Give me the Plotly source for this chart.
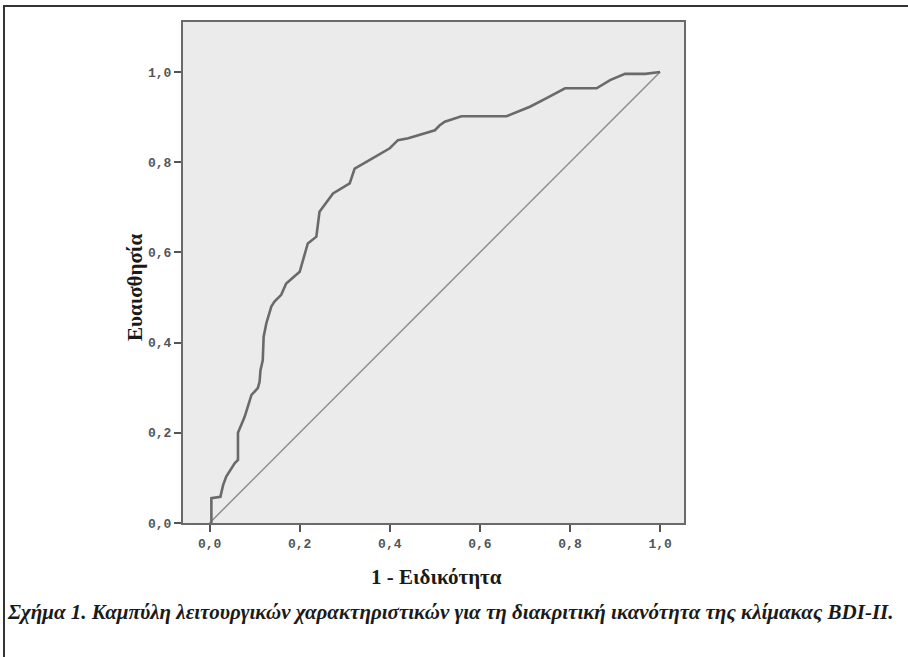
import plotly.graph_objects as go

# ROC curve points (1 - specificity, sensitivity)
fpr = [0.004, 0.004, 0.024, 0.030, 0.037, 0.056, 0.063, 0.063, 0.070, 0.078,
       0.093, 0.107, 0.111, 0.113, 0.118, 0.120, 0.126, 0.137, 0.144, 0.159,
       0.170, 0.200, 0.218, 0.237, 0.244, 0.274, 0.311, 0.322, 0.348, 0.382,
       0.400, 0.418, 0.441, 0.500, 0.511, 0.522, 0.559, 0.659, 0.711, 0.748,
       0.789, 0.859, 0.889, 0.922, 0.967, 1.000]
tpr = [0.000, 0.055, 0.058, 0.084, 0.103, 0.133, 0.140, 0.200, 0.217, 0.236,
       0.284, 0.299, 0.313, 0.339, 0.361, 0.413, 0.443, 0.480, 0.491, 0.506,
       0.531, 0.557, 0.620, 0.635, 0.690, 0.731, 0.753, 0.786, 0.801, 0.820,
       0.831, 0.849, 0.853, 0.871, 0.882, 0.890, 0.902, 0.902, 0.923, 0.942,
       0.964, 0.964, 0.982, 0.996, 0.996, 1.000]
diag_x = [0.0, 1.0]
diag_y = [0.0, 1.0]

tick_vals = [0.0, 0.2, 0.4, 0.6, 0.8, 1.0]
tick_text = ["0,0", "0,2", "0,4", "0,6", "0,8", "1,0"]

x_title = "1 - Ειδικότητα"
y_title = "Ευαισθησία"
caption = "Σχήμα 1. Καμπύλη λειτουργικών χαρακτηριστικών για τη διακριτική ικανότητα της κλίμακας BDI-II."

W, H = 908, 657
L, R, T, B = 183, 684, 22, 523  # plot area in pixels
pw, ph = R - L, B - T

def px(xp):
    return (xp - L) / pw

def py(yp):
    return (B - yp) / ph

fig = go.Figure()
fig.add_trace(go.Scatter(x=diag_x, y=diag_y, mode="lines",
                         line=dict(color="#8e8e8e", width=1.5),
                         hoverinfo="skip", showlegend=False))
fig.add_trace(go.Scatter(x=fpr, y=tpr, mode="lines",
                         line=dict(color="#6a6a6a", width=2.6),
                         showlegend=False))

axis_common = dict(
    tickmode="array", tickvals=tick_vals, ticktext=tick_text,
    ticks="outside", ticklen=7, tickwidth=2, tickcolor="#555555",
    showgrid=False, zeroline=False,
    showline=True, linecolor="#6a6a6a", linewidth=2, mirror=True,
    tickfont=dict(family="Liberation Mono", size=13, color="#555555",
                  weight="bold"),
)

fig.update_layout(
    width=W, height=H, autosize=False,
    margin=dict(l=L, r=W - R, t=T, b=H - B, pad=0),
    paper_bgcolor="white", plot_bgcolor="#ebebeb",
    xaxis=dict(range=[-0.059, 1.053], **axis_common),
    yaxis=dict(range=[0.0, 1.111], **axis_common),
    shapes=[
        dict(type="line", xref="paper", yref="paper",
             x0=px(3), x1=px(W + 5), y0=py(6), y1=py(6),
             line=dict(color="#333333", width=2)),
        dict(type="line", xref="paper", yref="paper",
             x0=px(4), x1=px(4), y0=py(6), y1=py(H + 5),
             line=dict(color="#333333", width=2)),
    ],
    annotations=[
        dict(text=x_title, xref="paper", yref="paper",
             x=px(436), y=py(577), xanchor="center", yanchor="middle",
             showarrow=False,
             font=dict(family="Liberation Serif", size=21, color="#1a1a1a",
                       weight="bold")),
        dict(text=y_title, xref="paper", yref="paper",
             x=px(135), y=py(288), xanchor="center", yanchor="middle",
             textangle=-90, showarrow=False,
             font=dict(family="Liberation Serif", size=21, color="#1a1a1a",
                       weight="bold")),
        dict(text="<b><i>" + caption + "</i></b>", xref="paper", yref="paper",
             x=px(5), y=py(612), xanchor="left", yanchor="middle",
             showarrow=False,
             font=dict(family="Liberation Serif", size=21, color="#1a1a1a")),
    ],
)

fig.write_html("out.html", config={"displayModeBar": False},
               post_script="document.body.style.margin='0px';")
